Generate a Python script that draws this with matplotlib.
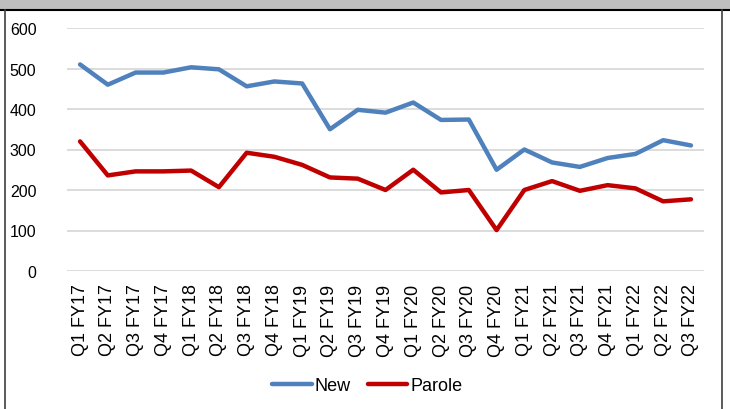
import matplotlib.pyplot as plt
from matplotlib.patches import Rectangle
from matplotlib.lines import Line2D

quarters = ["Q1 FY17", "Q2 FY17", "Q3 FY17", "Q4 FY17", "Q1 FY18", "Q2 FY18",
            "Q3 FY18", "Q4 FY18", "Q1 FY19", "Q2 FY19", "Q3 FY19", "Q4 FY19",
            "Q1 FY20", "Q2 FY20", "Q3 FY20", "Q4 FY20", "Q1 FY21", "Q2 FY21",
            "Q3 FY21", "Q4 FY21", "Q1 FY22", "Q2 FY22", "Q3 FY22"]
new = [510, 460, 490, 490, 503, 498, 456, 468, 463, 350, 398, 391,
       416, 373, 374, 250, 300, 268, 257, 279, 289, 323, 310]
parole = [320, 236, 246, 246, 248, 207, 292, 282, 262, 231, 228, 200,
          250, 194, 200, 101, 200, 222, 198, 212, 204, 172, 177]
y_ticks = [0, 100, 200, 300, 400, 500, 600]


def main():
    plt.rcParams["font.family"] = ["Liberation Sans", "DejaVu Sans"]
    fig = plt.figure(figsize=(7.3, 4.1), dpi=100)

    # frame decorations: grey band on top, dark borders left and right
    fig.patches.append(Rectangle((0, 1 - 10 / 410), 1, 10 / 410,
                                 transform=fig.transFigure, facecolor="#BFBFBF",
                                 edgecolor="none", zorder=0))
    fig.lines.append(Line2D([0, 1], [1 - 10.5 / 410] * 2, transform=fig.transFigure,
                            color="black", lw=1.5))
    fig.lines.append(Line2D([5 / 730] * 2, [0, 1 - 10.5 / 410], transform=fig.transFigure,
                            color="#404040", lw=1.2))
    fig.lines.append(Line2D([722 / 730] * 2, [0, 1 - 10.5 / 410], transform=fig.transFigure,
                            color="#404040", lw=1.2))

    ax = fig.add_axes([67 / 730, 1 - 272 / 410, (704 - 67) / 730, (272 - 29) / 410])
    x = range(len(quarters))
    ax.plot(x, new, color="#4F81BD", lw=3.2, label="New", solid_capstyle="round")
    ax.plot(x, parole, color="#C00000", lw=3.2, label="Parole", solid_capstyle="round")

    ax.set_ylim(0, 600)
    ax.set_xlim(-0.47, len(quarters) - 1 + 0.47)
    ax.set_yticks(y_ticks)
    ax.set_yticklabels([str(v) for v in y_ticks], fontsize=11.5)
    ax.set_xticks(list(x))
    ax.set_xticklabels(quarters, rotation=90, fontsize=13)
    ax.tick_params(axis="both", length=0, colors="black")
    ax.tick_params(axis="x", pad=9)
    ax.tick_params(axis="y", pad=22)
    ax.grid(axis="y", color="#D9D9D9", lw=1.3)
    ax.set_axisbelow(True)
    for s in ax.spines.values():
        s.set_visible(False)

    fig.legend(loc="center", bbox_to_anchor=(367 / 730, 1 - 387 / 410), ncol=2,
               frameon=False, fontsize=13, handlelength=2.2, handletextpad=0.15,
               columnspacing=0.95)
    fig.savefig("out.png", dpi=100)


if __name__ == "__main__":
    main()
